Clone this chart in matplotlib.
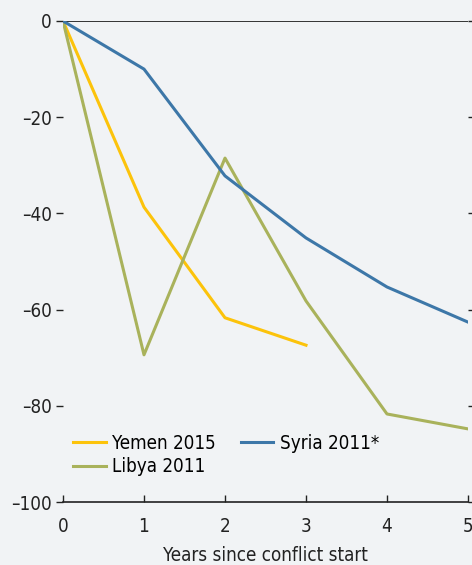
import matplotlib
matplotlib.use("Agg")
import matplotlib.pyplot as plt

plt.rcParams['font.family'] = ['DejaVu Sans']
plt.rcParams['font.stretch'] = 'condensed'
plt.rcParams['axes.unicode_minus'] = True

years = [0, 1, 2, 3, 4, 5]
yemen_years = [0, 1, 2, 3]
yemen = [0, -38.7, -61.7, -67.4]
syria = [0, -10.0, -32.2, -45.1, -55.3, -62.6]
libya = [0, -69.4, -28.5, -58.2, -81.7, -84.8]
yticks = [0, -20, -40, -60, -80, -100]

fs = 13.5
bg = "#f1f3f5"
fig = plt.figure(figsize=(4.72, 5.65), dpi=100, facecolor=bg)
ax = fig.add_axes([63/472, 63/565, (468-63)/472, (502-21)/565], facecolor=bg)

ax.plot(yemen_years, yemen, color="#fcc30b", lw=2.2, label="Yemen 2015")
ax.plot(years, libya, color="#a9b25b", lw=2.2, label="Libya 2011")
ax.plot(years, syria, color="#3d77a8", lw=2.2, label="Syria 2011*")
ax.axhline(0, color="#333333", lw=1.4, zorder=0)

ax.set_xlim(0, 5)
ax.set_ylim(-100, 0)
ax.set_xticks(years)
ax.set_yticks(yticks)
ax.set_yticklabels([str(v).replace("-", "\u2013") for v in yticks])

for s in ["top", "right", "left"]:
    ax.spines[s].set_visible(False)
ax.spines["bottom"].set_color("#222222")
ax.spines["bottom"].set_linewidth(1.2)

ax.tick_params(axis="x", direction="in", length=5, width=1, color="#222222",
               labelsize=fs, pad=11, labelcolor="#222222")
ax.tick_params(axis="y", direction="out", length=5, width=1, color="#222222",
               labelsize=fs, pad=3, labelcolor="#222222", right=True)
ax.set_xlabel("Years since conflict start", fontsize=fs, color="#222222", labelpad=7)

h, l = ax.get_legend_handles_labels()
ax.legend(h, l, ncol=2, frameon=False,
          loc="upper left", bbox_to_anchor=(0.025, 0.142), borderpad=0, borderaxespad=0,
          prop={'size': fs, 'stretch': 'condensed'},
          handlelength=1.75, columnspacing=1.3, labelspacing=0.25, handletextpad=0.35)

fig.savefig("out.png", dpi=100, facecolor=bg)
